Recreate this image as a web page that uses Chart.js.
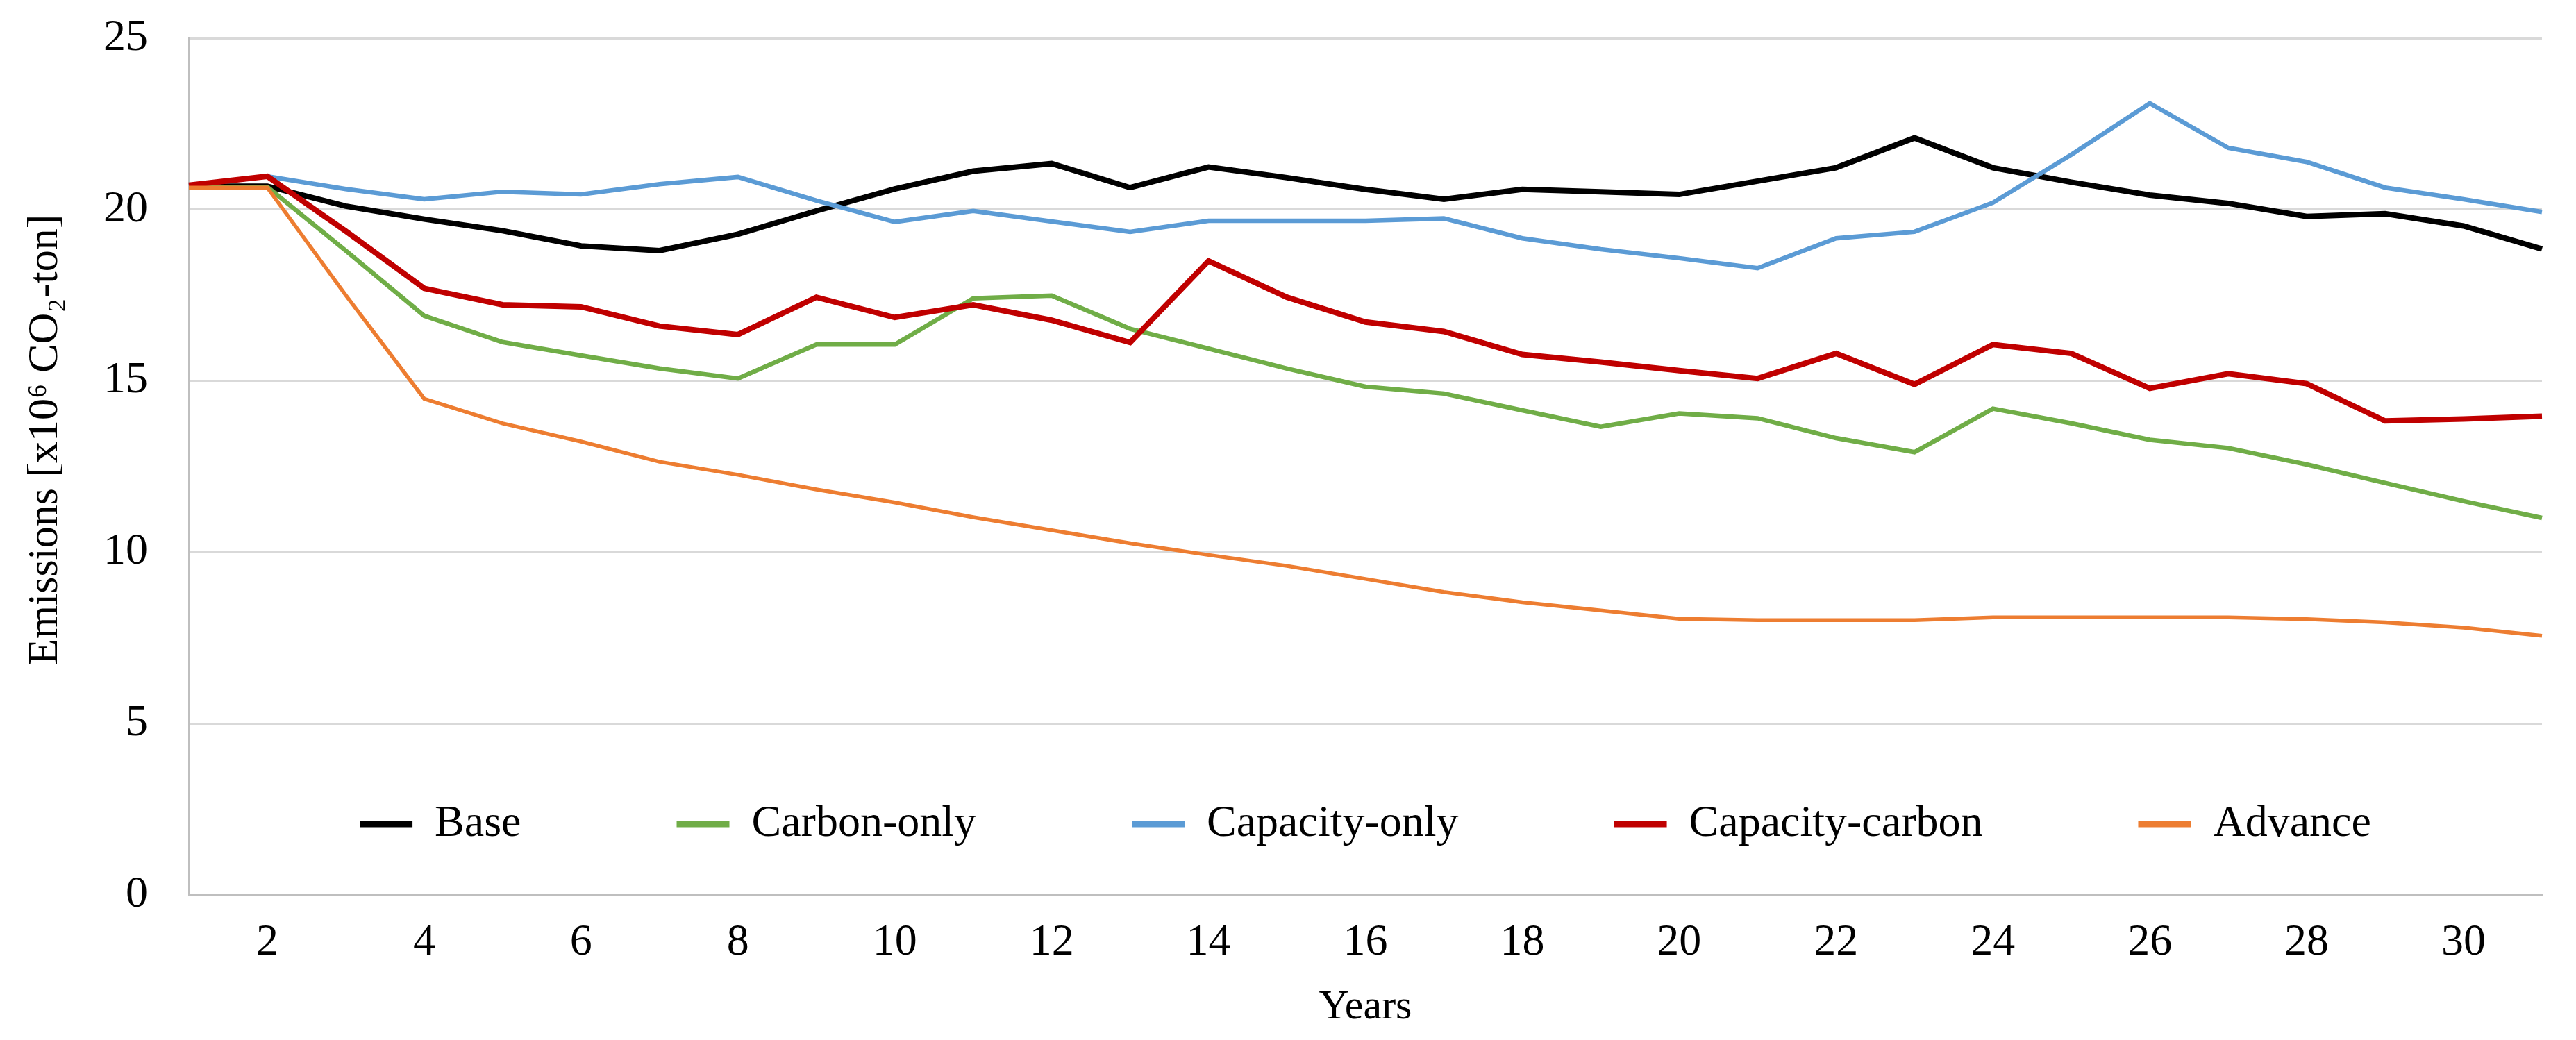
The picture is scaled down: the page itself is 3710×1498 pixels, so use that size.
<!DOCTYPE html>
<html>
<head>
<meta charset="utf-8">
<script src="https://cdn.jsdelivr.net/npm/chart.js@4.4.0/dist/chart.umd.min.js"></script>
<style>
  html, body { margin: 0; padding: 0; background: #fff; }
  #wrap { width: 3710px; height: 1498px; position: relative; }
</style>
</head>
<body>
<div id="wrap"><canvas id="emissionsChart"></canvas></div>
<script>
  var years = ['1','2','3','4','5','6','7','8','9','10','11','12','13','14','15','16','17','18','19','20','21','22','23','24','25','26','27','28','29','30','31'];
  var seriesNames = ['Base', 'Carbon-only', 'Capacity-only', 'Capacity-carbon', 'Advance'];
  var baseVals = [20.68, 20.68, 20.1, 19.72, 19.38, 18.94, 18.8, 19.28, 19.96, 20.6, 21.12, 21.34, 20.64, 21.24, 20.93, 20.59, 20.3, 20.59, 20.52, 20.44, 20.83, 21.22, 22.09, 21.22, 20.8, 20.42, 20.18, 19.8, 19.88, 19.52, 18.85];
  var carbonOnly = [20.66, 20.66, 18.8, 16.9, 16.13, 15.74, 15.36, 15.07, 16.06, 16.06, 17.41, 17.49, 16.52, 15.94, 15.36, 14.83, 14.63, 14.14, 13.66, 14.05, 13.91, 13.33, 12.92, 14.19, 13.76, 13.28, 13.04, 12.56, 12.02, 11.49, 11.0];
  var capacityOnly = [20.7, 20.97, 20.6, 20.3, 20.52, 20.44, 20.74, 20.95, 20.26, 19.64, 19.96, 19.65, 19.35, 19.67, 19.67, 19.67, 19.74, 19.16, 18.84, 18.58, 18.29, 19.16, 19.35, 20.2, 21.6, 23.1, 21.8, 21.39, 20.64, 20.3, 19.93];
  var capacityCarbon = [20.71, 20.97, 19.37, 17.7, 17.22, 17.16, 16.6, 16.35, 17.44, 16.85, 17.22, 16.77, 16.12, 18.5, 17.44, 16.72, 16.44, 15.77, 15.55, 15.3, 15.07, 15.8, 14.9, 16.06, 15.8, 14.78, 15.21, 14.92, 13.83, 13.89, 13.97];
  var advanceVals = [20.64, 20.64, 17.5, 14.48, 13.76, 13.23, 12.64, 12.26, 11.83, 11.45, 11.02, 10.64, 10.26, 9.92, 9.6, 9.22, 8.84, 8.54, 8.3, 8.06, 8.02, 8.02, 8.02, 8.1, 8.1, 8.1, 8.1, 8.05, 7.95, 7.8, 7.56];
  var yTicks = [0, 5, 10, 15, 20, 25];

  var colors = ['#000000', '#70ad47', '#5b9bd5', '#c00000', '#ed7d31'];
  var widths = [8, 6.5, 6.5, 8, 5.5];
  var allVals = [baseVals, carbonOnly, capacityOnly, capacityCarbon, advanceVals];
  var serif = "'Liberation Serif', 'Times New Roman', serif";

  // legend sits inside the plot, between the 0 and 5 gridlines
  var legendInPlot = {
    id: 'legendInPlot',
    afterLayout: function(chart) {
      var lg = chart.legend, area = chart.chartArea;
      if (!lg) return;
      var pad = lg.options.labels.padding;
      var fs = lg.options.labels.font.size;
      var cy = area.bottom - 102;
      lg.left = area.left - 49;
      lg.right = area.right + 49;
      lg.top = cy - pad - fs / 2;
      lg.bottom = lg.top + pad * 2 + fs + 20;
      lg.width = lg.right - lg.left;
      lg.height = lg.bottom - lg.top;
    }
  };

  var datasets = seriesNames.map(function(name, i) {
    return {
      label: name,
      data: allVals[i],
      borderColor: colors[i],
      backgroundColor: colors[i],
      borderWidth: widths[i],
      pointRadius: 0,
      tension: 0,
      order: seriesNames.length - i
    };
  });

  new Chart(document.getElementById('emissionsChart'), {
    type: 'line',
    data: { labels: years, datasets: datasets },
    plugins: [legendInPlot],
    options: {
      responsive: true,
      maintainAspectRatio: false,
      animation: false,
      devicePixelRatio: 1,
      layout: { padding: { left: 0, right: 49, top: 54, bottom: 0 } },
      plugins: {
        tooltip: { enabled: false },
        legend: {
          position: 'top',
          maxHeight: 1,
          labels: {
            usePointStyle: true,
            pointStyle: 'line',
            pointStyleWidth: 76,
            padding: 224,
            color: '#000',
            font: { family: serif, size: 64 },
            sort: function(a, b) { return a.datasetIndex - b.datasetIndex; },
            generateLabels: function(chart) {
              var items = Chart.defaults.plugins.legend.labels.generateLabels(chart);
              items.forEach(function(it) { it.lineWidth = 9; });
              return items;
            }
          }
        }
      },
      scales: {
        x: {
          type: 'category',
          offset: false,
          grid: { display: false, drawTicks: false },
          border: { display: true, color: '#bfbfbf', width: 3 },
          ticks: {
            autoSkip: false,
            maxRotation: 0,
            padding: 31,
            color: '#000',
            font: { family: serif, size: 64 },
            callback: function(v, idx) {
              var lab = years[idx];
              return (parseInt(lab, 10) % 2 === 0) ? lab : '';
            }
          },
          title: {
            display: true,
            text: 'Years',
            color: '#000',
            font: { family: serif, size: 60 },
            padding: { top: 0, bottom: 11 }
          },
          afterFit: function(scale) { scale.height = 209; }
        },
        y: {
          min: yTicks[0],
          max: yTicks[yTicks.length - 1],
          afterBuildTicks: function(scale) {
            scale.ticks = yTicks.map(function(v) { return { value: v }; });
          },
          grid: { color: '#d9d9d9', lineWidth: 3, drawTicks: false },
          border: { display: true, color: '#bfbfbf', width: 3 },
          ticks: {
            padding: 59,
            color: '#000',
            font: { family: serif, size: 64 }
          },
          title: {
            display: true,
            // leading spaces nudge the centred title a little upward, as in the original
            text: '     Emissions [x10\u2076 CO\u2082-ton]',
            color: '#000',
            font: { family: serif, size: 62 },
            padding: { top: 29, bottom: 0 }
          },
          afterFit: function(scale) {
            scale.width = 272;
            // tick padding would otherwise push the plot top down
            scale.paddingTop = 0;
            scale.paddingBottom = 0;
          }
        }
      }
    }
  });
</script>
</body>
</html>
